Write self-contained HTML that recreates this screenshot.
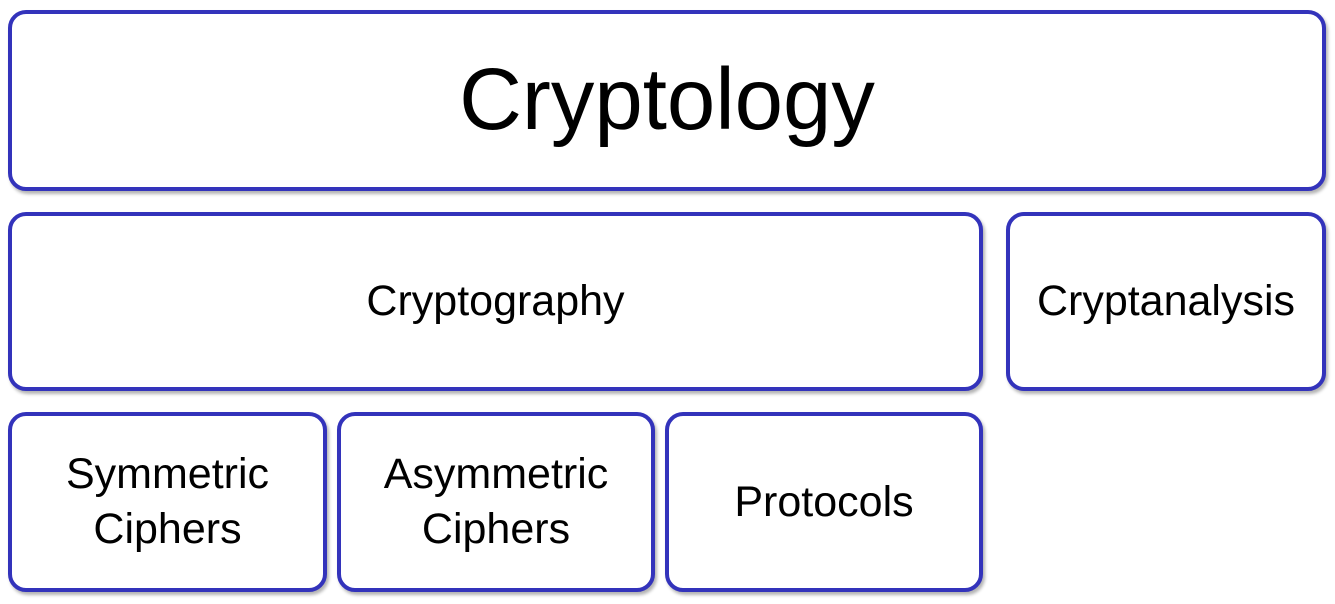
<!DOCTYPE html>
<html><head><style>
html,body{margin:0;padding:0;background:#fff;width:1335px;height:604px;overflow:hidden}
.b{position:absolute;box-sizing:border-box;border:4px solid #3333bb;border-radius:18px;background:#fff;
box-shadow:2px 3px 3px rgba(0,0,0,0.3);display:flex;align-items:center;justify-content:center;text-align:center;
font-family:"Liberation Sans",sans-serif;color:#000;font-size:43px;line-height:55px}
</style></head><body>
<div class="b" style="left:8px;top:10px;width:1318px;height:181px;font-size:87px;padding-bottom:2px">Cryptology</div>
<div class="b" style="left:8px;top:212px;width:975px;height:179px">Cryptography</div>
<div class="b" style="left:1006px;top:212px;width:320px;height:179px">Cryptanalysis</div>
<div class="b" style="left:8px;top:412px;width:319px;height:180px">Symmetric<br>Ciphers</div>
<div class="b" style="left:337px;top:412px;width:318px;height:180px">Asymmetric<br>Ciphers</div>
<div class="b" style="left:665px;top:412px;width:318px;height:180px">Protocols</div>
</body></html>
